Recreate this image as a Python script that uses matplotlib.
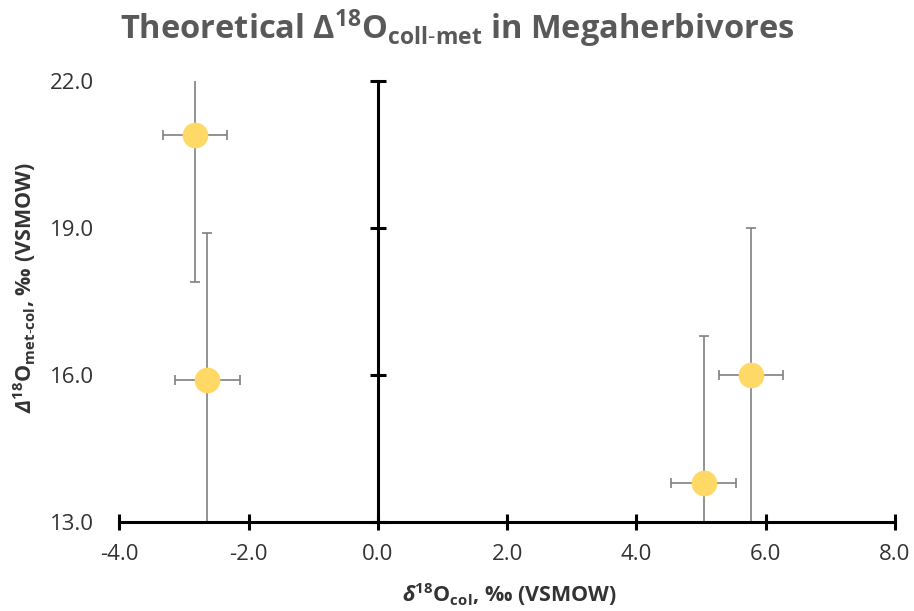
import matplotlib
matplotlib.use("Agg")
import matplotlib.pyplot as plt

# Collagen vs. metabolic water offsets for four megaherbivore groups
x_vals = [-2.83, -2.64, 5.04, 5.77]
y_vals = [20.89, 15.89, 13.78, 16.00]
x_err = [0.5, 0.5, 0.5, 0.5]
y_err = [3.0, 3.0, 3.0, 3.0]
x_ticks = [-4, -2, 0, 2, 4, 6, 8]
y_ticks = [13, 16, 19, 22]

plt.rcParams.update({
    "font.family": "Open Sans",
    "mathtext.fontset": "custom",
    "mathtext.rm": "Open Sans",
    "mathtext.bf": "Open Sans:bold",
    "mathtext.it": "Open Sans:italic",
    "mathtext.bfit": "Open Sans:italic:bold",
    "axes.unicode_minus": False,
})

W, H = 914, 611
fig = plt.figure(figsize=(W / 100, H / 100), dpi=100)
ax = fig.add_axes([119.3 / W, 1 - 521.7 / H, (895 - 119.3) / W, 441 / H])
ax.set_xlim(x_ticks[0], x_ticks[-1])
ax.set_ylim(y_ticks[0], y_ticks[-1])

ax.errorbar(x_vals, y_vals, xerr=x_err, yerr=y_err, fmt="o", ms=17.5,
            mfc="#FFD966", mec="#FFD966", ecolor="#808080",
            elinewidth=1.2, capsize=3.9, capthick=1.2, zorder=3)

# Axis lines: vertical axis crosses at x = 0
ax.spines["left"].set_position(("data", 0))
ax.spines[["top", "right"]].set_visible(False)
for side in ("left", "bottom"):
    ax.spines[side].set_linewidth(2.2)
    ax.spines[side].set_color("black")
    ax.spines[side].set_zorder(4)
ax.tick_params(direction="inout", length=12, width=2.2, color="black")
ax.set_xticks(x_ticks)
ax.set_xticklabels([f"{t:.1f}" for t in x_ticks])
ax.tick_params(axis="x", labelsize=16, labelcolor="#333333", pad=10)
ax.set_yticks(y_ticks)
ax.tick_params(axis="y", labelleft=False)

# Value labels for the vertical axis sit at the left edge of the plot
sec = ax.secondary_yaxis("left")
sec.spines["left"].set_visible(False)
sec.set_yticks(y_ticks)
sec.set_yticklabels([f"{t:.1f}" for t in y_ticks])
sec.tick_params(length=0, pad=18.5, labelsize=16, labelcolor="#333333")

fig.text(457.5 / W, 1 - 39.3 / H,
         r"Theoretical Δ$^{\mathbf{18}}$O$_{\mathbf{coll\text{-}met}}$ in Megaherbivores",
         ha="center", va="baseline", fontsize=23.5, fontweight="bold", color="#595959")
fig.text(509 / W, 1 - 601.7 / H,
         r"$\mathbfit{\delta}^{\mathbf{18}}$O$_{\mathbf{col}}$, ‰ (VSMOW)",
         ha="center", va="baseline", fontsize=15.5, fontweight="bold", color="#333333")
fig.text(32 / W, 1 - 288 / H,
         r"$\mathbfit{\Delta}^{\mathbf{18}}$O$_{\mathbf{met\text{-}col}}$, ‰ (VSMOW)",
         ha="center", va="baseline", rotation=90, rotation_mode="anchor",
         fontsize=15.5, fontweight="bold", color="#333333")

fig.savefig("out.png", dpi=100)
